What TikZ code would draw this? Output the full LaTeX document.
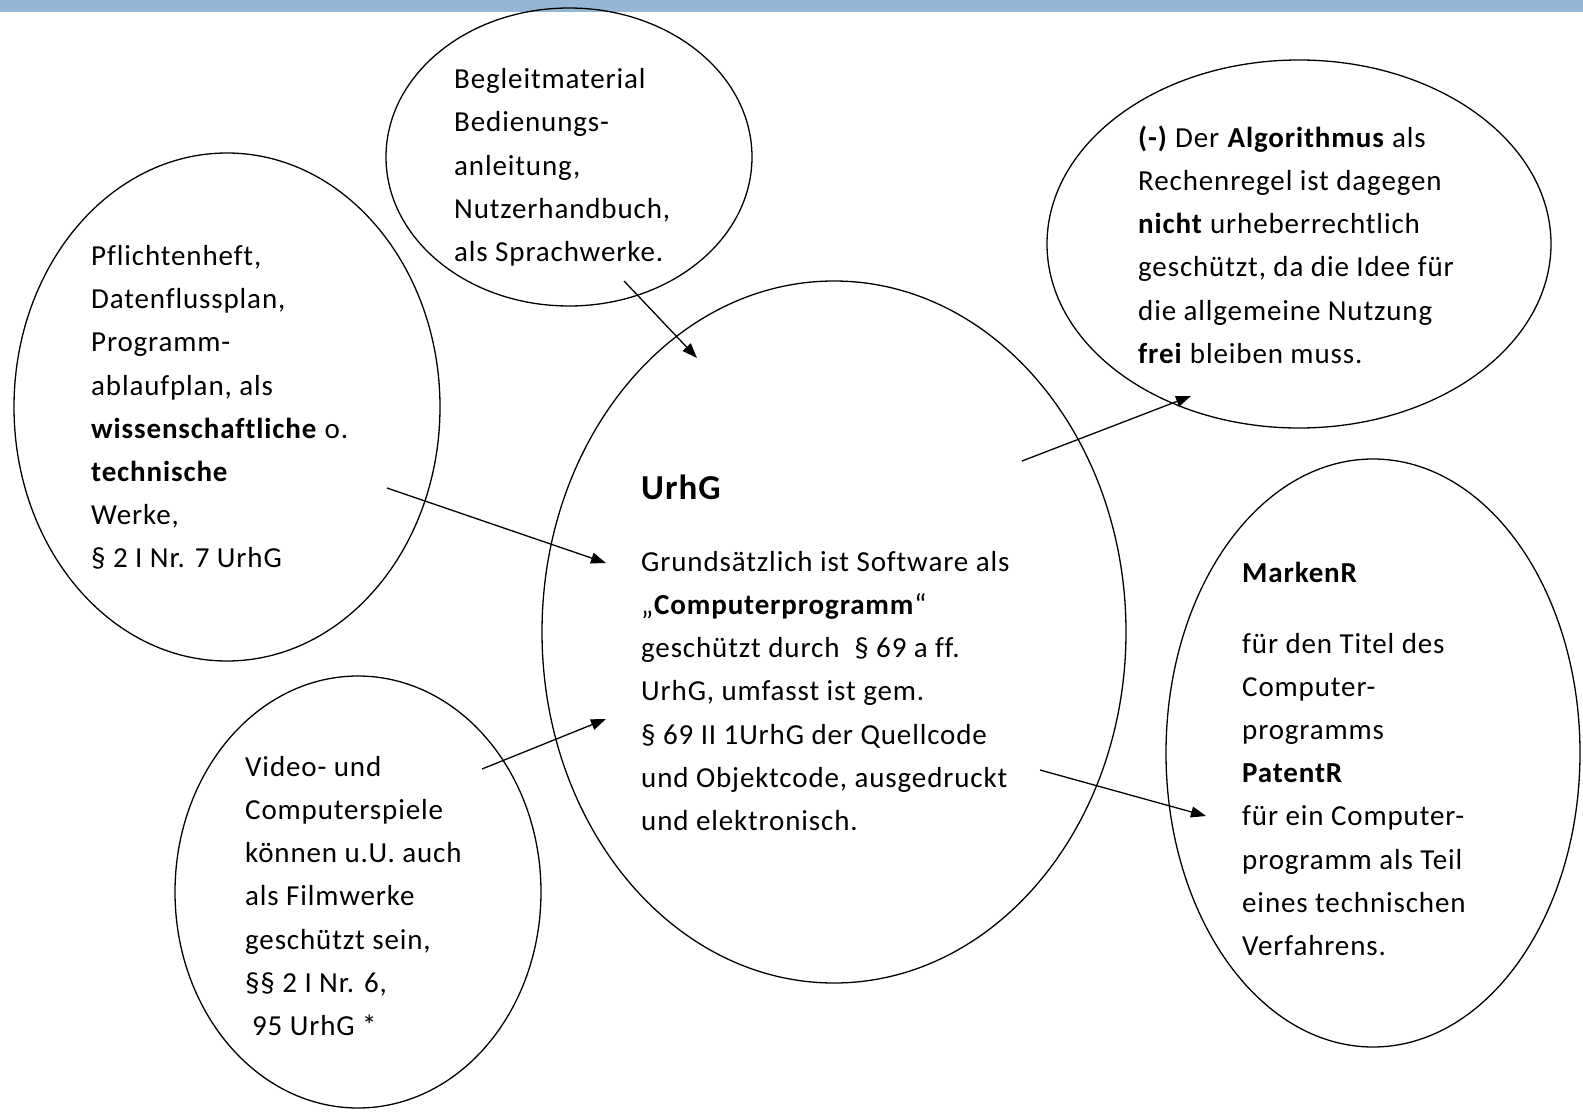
\documentclass[tikz,border=0pt]{standalone}
\usepackage{fontspec}
\setmainfont{Carlito}[LetterSpace=3,Ligatures=NoCommon]
\usetikzlibrary{shapes.geometric,arrows.meta}
\definecolor{barblue}{RGB}{149,182,212}
\tikzset{
  bubble/.style={draw=black, line width=1.3pt, ellipse, inner sep=0pt},
  bubtext/.style={anchor=base west, align=left, inner sep=0pt, font=\fontsize{29}{43.2}\selectfont},
  conn/.style={line width=1.3pt, -{Triangle[length=15pt,width=11pt]}}
}
\begin{document}
\begin{tikzpicture}[x=1pt,y=-1pt]
\useasboundingbox (0,0) rectangle (1583,1113);
\fill[white] (0,0) rectangle (1583,1113);
\fill[barblue] (0,0) rectangle (1583,12);

% ellipses
\node[bubble, minimum width=366pt, minimum height=298pt] (begleit) at (569,157) {};
\node[bubble, minimum width=426pt, minimum height=508pt] (pflicht) at (227,407) {};
\node[bubble, minimum width=366pt, minimum height=432pt] (video) at (358,892) {};
\node[bubble, minimum width=584pt, minimum height=702pt] (urhg) at (834,632) {};
\node[bubble, minimum width=504pt, minimum height=368pt] (algo) at (1299,244) {};
\node[bubble, minimum width=414pt, minimum height=588pt] (marken) at (1373,753) {};

% texts (anchored at the baseline of their last line)
\node[bubtext] (begleitT) at (454,261.5) {Begleitmaterial\\Bedienungs-\\anleitung,\\Nutzerhandbuch,\\als Sprachwerke.};
\node[bubtext] (pflichtT) at (91,567.8) {Pflichtenheft,\\Datenflussplan,\\Programm-\\ablaufplan, als\\\textbf{wissenschaftliche} o.\\\textbf{technische}\\Werke,\\§ 2 I Nr. 7 UrhG};
\node[bubtext] (videoT) at (245,1035.5) {Video- und\\Computerspiele\\können u.U. auch\\als Filmwerke\\geschützt sein,\\§§ 2 I Nr. 6,\\\hspace*{7pt}95 UrhG *};
\node[anchor=base west, inner sep=0pt, font=\fontsize{35}{40}\selectfont\bfseries] (urhgTitle) at (641,499) {UrhG};
\node[bubtext] (urhgT) at (641,830.5) {Grundsätzlich ist Software als\\„\textbf{Computerprogramm}“\\geschützt durch \ § 69 a ff.\\UrhG, umfasst ist gem.\\§ 69 II 1UrhG der Quellcode\\und Objektcode, ausgedruckt\\und elektronisch.};
\node[bubtext] (algoT) at (1138,363.3) {\textbf{(-)} Der \textbf{Algorithmus} als\\Rechenregel ist dagegen\\\textbf{nicht} urheberrechtlich\\geschützt, da die Idee für\\die allgemeine Nutzung\\\textbf{frei} bleiben muss.};
\node[bubtext] (markenT) at (1242,955.5) {\textbf{MarkenR}\\[27.5pt]für den Titel des\\Computer-\\programms\\\textbf{PatentR}\\für ein Computer-\\programm als Teil\\eines technischen\\Verfahrens.};

% connector ends
\coordinate (a1s) at (624,281);
\coordinate (a1e) at (697,358);
\coordinate (a2s) at (387,488);
\coordinate (a2e) at (606,563);
\coordinate (a3s) at (482,769);
\coordinate (a3e) at (606,719);
\coordinate (a4s) at (1022,461);
\coordinate (a4e) at (1191,396);
\coordinate (a5s) at (1040,770);
\coordinate (a5e) at (1206,816);

\draw[conn] (a1s) -- (a1e);
\draw[conn] (a2s) -- (a2e);
\draw[conn] (a3s) -- (a3e);
\draw[conn] (a4s) -- (a4e);
\draw[conn] (a5s) -- (a5e);
\end{tikzpicture}
\end{document}
